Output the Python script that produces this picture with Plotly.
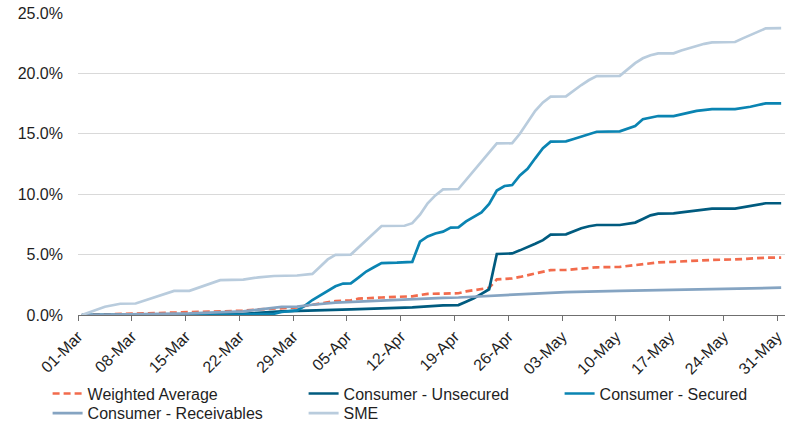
import pandas as pd
import plotly.graph_objects as go

YEAR = 2020

# ---------------- data (values in %) ----------------
wa_dates = ["01-Mar", "08-Mar", "15-Mar", "22-Mar", "24-Mar", "27-Mar", "29-Mar", "30-Mar", "31-Mar",
            "03-Apr", "05-Apr", "06-Apr", "09-Apr", "13-Apr", "15-Apr", "17-Apr", "19-Apr", "20-Apr",
            "21-Apr", "22-Apr", "23-Apr", "24-Apr", "26-Apr", "27-Apr", "28-Apr", "29-Apr", "30-Apr",
            "01-May", "03-May", "06-May", "07-May", "10-May", "13-May", "15-May", "17-May", "20-May",
            "22-May", "25-May", "28-May", "29-May", "31-May"]
wa_vals = [0.0, 0.12, 0.22, 0.35, 0.47, 0.58, 0.62, 0.75, 0.85,
           1.15, 1.22, 1.35, 1.45, 1.55, 1.75, 1.78, 1.80, 1.95,
           2.05, 2.15, 2.25, 2.95, 3.03, 3.15, 3.30, 3.45, 3.60,
           3.72, 3.73, 3.92, 3.95, 3.98, 4.20, 4.35, 4.40, 4.50,
           4.56, 4.60, 4.72, 4.74, 4.75]

uns_dates = ["01-Mar", "08-Mar", "15-Mar", "22-Mar", "27-Mar", "29-Mar", "31-Mar", "03-Apr", "05-Apr",
             "09-Apr", "13-Apr", "17-Apr", "19-Apr", "20-Apr", "21-Apr", "22-Apr", "23-Apr", "24-Apr",
             "26-Apr", "27-Apr", "28-Apr", "29-Apr", "30-Apr", "01-May", "03-May", "04-May", "05-May",
             "06-May", "07-May", "10-May", "11-May", "12-May", "13-May", "14-May", "15-May", "17-May",
             "18-May", "19-May", "20-May", "21-May", "22-May", "25-May", "26-May", "27-May", "28-May",
             "29-May", "31-May"]
uns_vals = [0.0, 0.04, 0.08, 0.10, 0.30, 0.35, 0.40, 0.45, 0.47,
            0.55, 0.63, 0.80, 0.82, 1.10, 1.38, 1.75, 2.13, 5.05,
            5.10, 5.35, 5.60, 5.90, 6.20, 6.65, 6.68, 6.95, 7.18,
            7.35, 7.45, 7.45, 7.55, 7.65, 7.95, 8.25, 8.39, 8.42,
            8.50, 8.57, 8.63, 8.72, 8.80, 8.80, 8.92, 9.05, 9.15,
            9.25, 9.25]

sec_dates = ["01-Mar", "15-Mar", "22-Mar", "26-Mar", "27-Mar", "29-Mar", "30-Mar", "31-Mar", "01-Apr",
             "02-Apr", "03-Apr", "04-Apr", "05-Apr", "06-Apr", "07-Apr", "08-Apr", "09-Apr", "11-Apr",
             "13-Apr", "14-Apr", "15-Apr", "16-Apr", "17-Apr", "18-Apr", "19-Apr", "20-Apr", "21-Apr",
             "22-Apr", "23-Apr", "24-Apr", "25-Apr", "26-Apr", "27-Apr", "28-Apr", "29-Apr", "30-Apr",
             "01-May", "03-May", "04-May", "05-May", "06-May", "07-May", "10-May", "11-May", "12-May",
             "13-May", "14-May", "15-May", "17-May", "18-May", "19-May", "20-May", "21-May", "22-May",
             "25-May", "26-May", "27-May", "28-May", "29-May", "31-May"]
sec_vals = [0.0, 0.02, 0.04, 0.10, 0.25, 0.38, 0.75, 1.24, 1.60,
            1.97, 2.38, 2.60, 2.62, 3.10, 3.60, 3.95, 4.30, 4.33,
            4.40, 6.07, 6.50, 6.75, 6.90, 7.23, 7.26, 7.75, 8.10,
            8.50, 9.20, 10.30, 10.68, 10.76, 11.55, 12.10, 12.97, 13.80,
            14.35, 14.38, 14.57, 14.76, 14.95, 15.17, 15.20, 15.40, 15.65,
            16.20, 16.35, 16.47, 16.47, 16.58, 16.75, 16.90, 17.00, 17.05,
            17.05, 17.12, 17.24, 17.38, 17.52, 17.52]

rec_dates = ["01-Mar", "08-Mar", "15-Mar", "22-Mar", "25-Mar", "27-Mar", "29-Mar", "31-Mar", "03-Apr",
             "05-Apr", "09-Apr", "13-Apr", "17-Apr", "19-Apr", "22-Apr", "24-Apr", "26-Apr", "30-Apr",
             "03-May", "10-May", "17-May", "24-May", "31-May"]
rec_vals = [0.0, 0.06, 0.13, 0.30, 0.55, 0.68, 0.69, 0.85, 1.02,
            1.08, 1.24, 1.35, 1.42, 1.45, 1.55, 1.62, 1.68, 1.85,
            1.90, 2.00, 2.10, 2.20, 2.26]

sme_dates = ["01-Mar", "03-Mar", "04-Mar", "06-Mar", "08-Mar", "13-Mar", "15-Mar", "19-Mar", "20-Mar",
             "22-Mar", "24-Mar", "26-Mar", "29-Mar", "30-Mar", "31-Mar", "01-Apr", "02-Apr", "03-Apr",
             "05-Apr", "09-Apr", "12-Apr", "13-Apr", "14-Apr", "15-Apr", "16-Apr", "17-Apr", "19-Apr",
             "24-Apr", "26-Apr", "27-Apr", "28-Apr", "29-Apr", "30-Apr", "01-May", "03-May", "04-May",
             "05-May", "06-May", "07-May", "10-May", "11-May", "12-May", "13-May", "14-May", "15-May",
             "17-May", "18-May", "19-May", "20-May", "21-May", "22-May", "25-May", "26-May", "27-May",
             "28-May", "29-May", "31-May"]
sme_vals = [0.0, 0.45, 0.68, 0.93, 0.95, 1.99, 2.00, 2.88, 2.90,
            2.93, 3.12, 3.23, 3.27, 3.32, 3.40, 4.00, 4.60, 4.98,
            5.00, 7.37, 7.39, 7.60, 8.30, 9.25, 9.90, 10.40, 10.43,
            14.20, 14.22, 15.00, 16.00, 16.90, 17.60, 18.07, 18.10, 18.60,
            19.04, 19.45, 19.78, 19.80, 20.30, 20.85, 21.25, 21.50, 21.66,
            21.66, 21.90, 22.10, 22.30, 22.45, 22.57, 22.60, 22.90, 23.18,
            23.45, 23.73, 23.75]

series_names = ["Weighted Average", "Consumer - Unsecured", "Consumer - Secured",
                "Consumer - Receivables", "SME"]

tick_labels = ["01-Mar", "08-Mar", "15-Mar", "22-Mar", "29-Mar", "05-Apr", "12-Apr",
               "19-Apr", "26-Apr", "03-May", "10-May", "17-May", "24-May", "31-May"]
y_ticks = [0, 5, 10, 15, 20, 25]
y_tick_labels = ["0.0%", "5.0%", "10.0%", "15.0%", "20.0%", "25.0%"]

# ---------------- helpers ----------------
def to_dt(labels):
    return pd.to_datetime([f"{s}-{YEAR}" for s in labels], format="%d-%b-%Y")

half_day = pd.Timedelta(hours=12)

series = [
    (wa_dates, wa_vals, "#F26B4C", "7px,4px", "legend"),
    (uns_dates, uns_vals, "#005B7F", "solid", "legend"),
    (sec_dates, sec_vals, "#0A84B2", "solid", "legend"),
    (rec_dates, rec_vals, "#85A4C2", "solid", "legend2"),
    (sme_dates, sme_vals, "#B9CCDD", "solid", "legend2"),
]

fig = go.Figure()
for name, (d, v, color, dash, lg) in zip(series_names, series):
    fig.add_trace(go.Scatter(
        x=to_dt(d), y=v, mode="lines", name=name, legend=lg,
        line=dict(color=color, width=2.7, dash=dash),
        hoverinfo="skip",
    ))

tick_dt = to_dt(tick_labels)
x_start = to_dt(["01-Mar"])[0] - half_day
x_end = to_dt(["31-May"])[0] + half_day

font_family = "Liberation Sans, Arial, sans-serif"
legend_common = dict(
    orientation="h", x=-0.043, xanchor="left", yanchor="top",
    entrywidth=211, entrywidthmode="pixels",
    font=dict(family=font_family, size=16, color="#1f1f1f"),
    bgcolor="rgba(0,0,0,0)", borderwidth=0, traceorder="normal",
    itemclick=False, itemdoubleclick=False,
)

fig.update_layout(
    width=794, height=421,
    margin=dict(l=78, r=9, t=13, b=106, autoexpand=False),
    paper_bgcolor="white", plot_bgcolor="white",
    font=dict(family=font_family, size=16, color="#1f1f1f"),
    showlegend=True,
    legend=dict(y=-0.204, **legend_common),
    legend2=dict(y=-0.269, **legend_common),
    xaxis=dict(
        type="date", range=[x_start, x_end],
        tickvals=[t - half_day for t in tick_dt], ticktext=tick_labels,
        tickangle=-45, ticks="outside", ticklen=5, tickcolor="#6f6f6f", tickwidth=1,
        showline=True, linecolor="#6f6f6f", linewidth=1,
        showgrid=False, zeroline=False,
        tickfont=dict(family=font_family, size=16, color="#1f1f1f"),
    ),
    yaxis=dict(
        range=[0, 25], tickvals=y_ticks, ticktext=y_tick_labels,
        showgrid=True, gridcolor="#d9d9d9", gridwidth=1,
        zeroline=False, showline=False, ticks="", ticklabelstandoff=14,
        tickfont=dict(family=font_family, size=16, color="#1f1f1f"),
    ),
)

fig.write_html("out.html")
